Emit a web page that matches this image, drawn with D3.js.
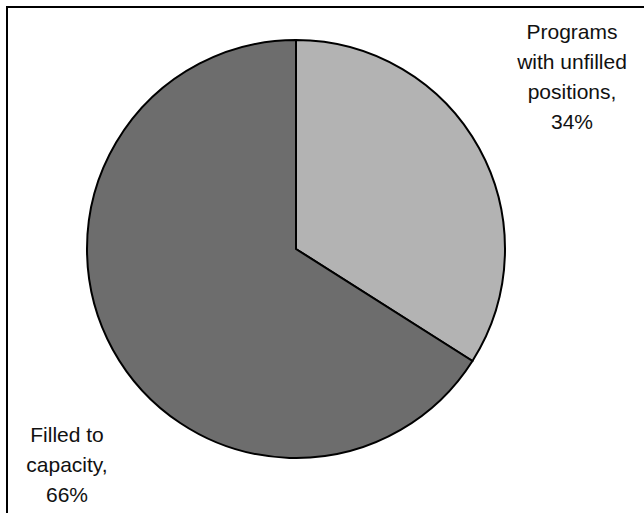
<!DOCTYPE html>
<html>
<head>
<meta charset="utf-8">
<script src="https://cdn.jsdelivr.net/npm/d3@7"></script>
<style>
  body { margin: 0; background: #fff; }
  svg { display: block; font-family: "Liberation Sans", Arial, sans-serif; }
</style>
</head>
<body>
<div id="chart"></div>
<script>
const categories = ["Programs with unfilled positions", "Filled to capacity"];
const shares = [34, 66];
const labelLines = [
  ["Programs", "with unfilled", "positions,", "34%"],
  ["Filled to", "capacity,", "66%"]
];
const sliceColors = ["#b3b3b3", "#6d6d6d"];

const width = 644, height = 513;
const cx = 296, cy = 249, radius = 209;

const svg = d3.select("#chart").append("svg")
  .attr("width", width)
  .attr("height", height);

// frame: only top and left edges show in the picture
svg.append("path")
  .attr("d", `M7,${height} V7 H${width}`)
  .attr("fill", "none")
  .attr("stroke", "#000")
  .attr("stroke-width", 2);

const pie = d3.pie().sort(null).value(d => d);
const arc = d3.arc().innerRadius(0).outerRadius(radius);

svg.append("g")
  .attr("transform", `translate(${cx},${cy})`)
  .selectAll("path")
  .data(pie(shares))
  .join("path")
  .attr("d", arc)
  .attr("fill", (d, i) => sliceColors[i])
  .attr("stroke", "#000")
  .attr("stroke-width", 2);

// labels placed outside the pie, as in the original
const labelPos = [{ x: 572, y: 39 }, { x: 67, y: 442 }];
const lineHeight = 30;

labelLines.forEach((lines, i) => {
  const t = svg.append("text")
    .attr("text-anchor", "middle")
    .attr("font-size", 21)
    .attr("fill", "#111");
  lines.forEach((line, j) => {
    t.append("tspan")
      .attr("x", labelPos[i].x)
      .attr("y", labelPos[i].y + j * lineHeight)
      .text(line);
  });
});
</script>
</body>
</html>
